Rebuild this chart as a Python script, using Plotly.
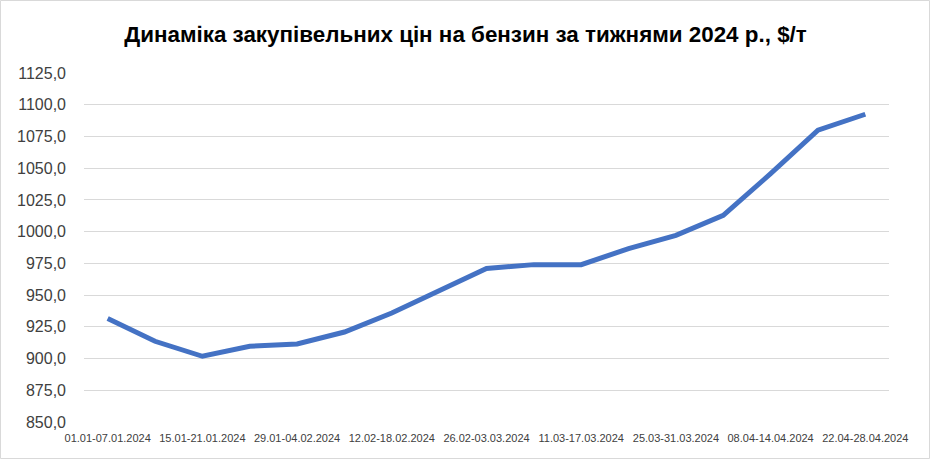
import plotly.graph_objects as go

weeks = [
    "01.01-07.01.2024", "08.01-14.01.2024", "15.01-21.01.2024", "22.01-28.01.2024",
    "29.01-04.02.2024", "05.02-11.02.2024", "12.02-18.02.2024", "19.02-25.02.2024",
    "26.02-03.03.2024", "04.03-10.03.2024", "11.03-17.03.2024", "18.03-24.03.2024",
    "25.03-31.03.2024", "01.04-07.04.2024", "08.04-14.04.2024", "15.04-21.04.2024",
    "22.04-28.04.2024",
]
prices = [931.5, 913.6, 901.8, 909.7, 911.5, 920.9, 935.9, 953.8, 970.9,
          974.0, 974.0, 986.6, 997.1, 1012.9, 1045.7, 1079.9, 1092.5]
shown_ticks = weeks[::2]

title_text = "Динаміка закупівельних цін на бензин за тижнями 2024 р., $/т"

fig = go.Figure()
fig.add_trace(go.Scatter(
    x=weeks, y=prices, mode="lines",
    line=dict(color="#4472C4", width=5),
    hoverinfo="x+y",
))

W, H = 931, 460
L, R, T, B = 84, 42, 73, 38
pw, ph = W - L - R, H - T - B

fig.update_layout(
    width=W, height=H,
    margin=dict(l=L, r=R, t=T, b=B),
    paper_bgcolor="white", plot_bgcolor="white",
    separators=", ",
    showlegend=False,
    title=dict(text="<b>" + title_text + "</b>", x=0.5, xanchor="center",
               y=1 - 34 / H, yanchor="middle",
               font=dict(family="Liberation Sans Narrow, Liberation Sans, sans-serif",
                         size=22.4, color="black")),
    xaxis=dict(type="category", range=[-0.5, len(weeks) - 0.5],
               tickmode="array", tickvals=shown_ticks, ticktext=shown_ticks,
               showgrid=False, showline=False, ticks="",
               tickangle=0, ticklabelstandoff=8,
               tickfont=dict(family="Liberation Sans, sans-serif", size=11, color="#404040")),
    yaxis=dict(range=[850, 1125], dtick=25, tick0=850, tickformat=".1f",
               showgrid=True, gridcolor="#D9D9D9", gridwidth=1,
               zeroline=False, showline=False, ticks="",
               ticklabelstandoff=17,
               tickfont=dict(family="Liberation Sans, sans-serif", size=16, color="#404040")),
)

fig.add_shape(type="rect", xref="paper", yref="paper",
              x0=(0.5 - L) / pw, x1=(W - 1.5 - L) / pw,
              y0=-(B - 1.5) / ph, y1=1 + (T - 0.5) / ph,
              line=dict(color="#D9D9D9", width=1), fillcolor="rgba(0,0,0,0)",
              layer="below")

fig.write_html("out.html", config={"displayModeBar": False},
               post_script="document.body.style.margin='0';document.body.style.overflow='hidden';")
